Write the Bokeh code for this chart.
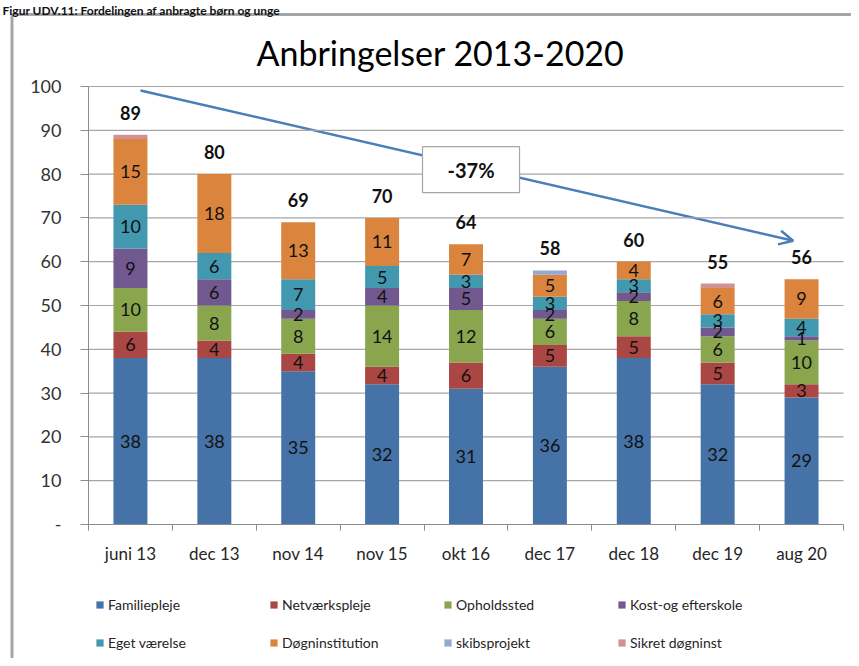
import numpy as np
from bokeh.plotting import figure
from bokeh.models import (ColumnDataSource, FixedTicker, Legend, LegendItem, Arrow,
                          OpenHead, Range1d)
from bokeh.core.properties import value
from bokeh.embed import file_html
from bokeh.resources import INLINE

categories = ["juni 13", "dec 13", "nov 14", "nov 15", "okt 16", "dec 17", "dec 18", "dec 19", "aug 20"]
familiepleje = [38, 38, 35, 32, 31, 36, 38, 32, 29]
netvaerkspleje = [6, 4, 4, 4, 6, 5, 5, 5, 3]
opholdssted = [10, 8, 8, 14, 12, 6, 8, 6, 10]
kost_efterskole = [9, 6, 2, 4, 5, 2, 2, 2, 1]
eget_vaerelse = [10, 6, 7, 5, 3, 3, 3, 3, 4]
doegninstitution = [15, 18, 13, 11, 7, 5, 4, 6, 9]
skibsprojekt = [0, 0, 0, 0, 0, 1, 0, 0, 0]
sikret_doegninst = [1, 0, 0, 0, 0, 0, 0, 1, 0]
series_names = ["Familiepleje", "Netværkspleje", "Opholdssted", "Kost-og efterskole",
                "Eget værelse", "Døgninstitution", "skibsprojekt", "Sikret døgninst"]
y_ticks = list(range(0, 101, 10))
change_text = "-37%"
title_text = "Anbringelser 2013-2020"
header_text = "Figur UDV.11: Fordelingen af anbragte børn og unge"

series = [familiepleje, netvaerkspleje, opholdssted, kost_efterskole,
          eget_vaerelse, doegninstitution, skibsprojekt, sikret_doegninst]
colors = ["#4572A7", "#AA4643", "#89A54E", "#71588F", "#4198AF", "#DB843D", "#93A9CF", "#D19392"]
labelled = 6  # first six series carry value labels

FONT = "Lato"
W, H = 851, 658
# plot area in canvas pixels
PL, PR, PT, PB = 88, 843, 86, 524
n = len(categories)
xpx = n / (PR - PL)          # data units per pixel (x)
ypx = 100.0 / (PB - PT)      # data units per pixel (y)
x_lo = -0.5 - PL * xpx
x_hi = n - 0.5 + (W - PR) * xpx
y_hi = 100 + PT * ypx
y_lo = -(H - PB) * ypx


def cx(px):
    return x_lo + px * xpx


def cy(py):
    return y_hi - py * ypx


x = list(range(n))
keys = [f"s{i}" for i in range(len(series))]
data = {"x": x}
for k, s in zip(keys, series):
    data[k] = s
src = ColumnDataSource(data)

# frame covers the whole canvas; axes are pinned inside it
p = figure(width=W, height=H, x_range=Range1d(x_lo, x_hi), y_range=Range1d(y_lo, y_hi),
           output_backend="svg", toolbar_location=None,
           min_border_left=0, min_border_right=0, min_border_top=0, min_border_bottom=0)
p.outline_line_color = None
p.background_fill_color = "white"
p.border_fill_color = "white"

# chart object border (left and top)
p.line(x=[cx(11.5), cx(11.5), cx(W + 10)], y=[cy(H + 10), cy(14), cy(14)],
       line_color="#A6A6A6", line_width=3)

# header and title
p.text(x=[cx(2)], y=[cy(10)], text=[header_text], text_align="left", text_baseline="alphabetic",
       text_font=value(FONT), text_font_size="12px", text_font_style="bold", text_color="#111111")
p.text(x=[cx(440)], y=[cy(52)], text=[title_text], text_align="center", text_baseline="middle",
       text_font=value(FONT), text_font_size="34px", text_color="#000000")

# horizontal gridlines limited to the plot area
p.xgrid.grid_line_color = None
p.ygrid.grid_line_color = None
p.segment(x0=[-0.5] * len(y_ticks), x1=[n - 0.5] * len(y_ticks), y0=y_ticks, y1=y_ticks,
          line_color="#A6A6A6", line_width=1.2)

renderers = p.vbar_stack(keys, x="x", width=0.405, source=src, color=colors, line_color=None)

# axes
p.yaxis.fixed_location = -0.5
p.yaxis.ticker = FixedTicker(ticks=y_ticks)
p.yaxis.bounds = (0, 100)
p.yaxis.major_label_overrides = {0: "-"}
p.yaxis.major_tick_out = 8
p.yaxis.major_tick_in = 0
p.yaxis.minor_tick_line_color = None
p.yaxis.axis_line_color = "#8C8C8C"
p.yaxis.major_tick_line_color = "#8C8C8C"
p.yaxis.major_label_standoff = 19
p.yaxis.major_label_text_font = FONT
p.yaxis.major_label_text_font_size = "18px"
p.yaxis.major_label_text_color = "#333333"

p.xaxis.fixed_location = 0
p.xaxis.bounds = (-0.5, n - 0.5)
p.xaxis.ticker = FixedTicker(ticks=x, minor_ticks=[i - 0.5 for i in range(n + 1)])
p.xaxis.major_label_overrides = {i: c for i, c in enumerate(categories)}
p.xaxis.major_tick_out = 0
p.xaxis.major_tick_in = 0
p.xaxis.minor_tick_out = 6
p.xaxis.minor_tick_in = 0
p.xaxis.minor_tick_line_color = "#8C8C8C"
p.xaxis.axis_line_color = "#8C8C8C"
p.xaxis.major_label_standoff = 12
p.xaxis.major_label_text_font = FONT
p.xaxis.major_label_text_font_size = "17px"
p.xaxis.major_label_text_color = "#262626"

# segment value labels
lx, ly, lt = [], [], []
bottom = np.zeros(n)
for i, s in enumerate(series):
    arr = np.array(s, dtype=float)
    if i < labelled:
        for j in range(n):
            if arr[j] > 0:
                lx.append(x[j])
                ly.append(bottom[j] + arr[j] / 2)
                lt.append(str(int(arr[j])))
    bottom = bottom + arr
p.text(x=lx, y=ly, text=lt, text_align="center", text_baseline="middle",
       text_font=value(FONT), text_font_size="18px", text_color="#111111")

totals = bottom
p.text(x=x, y=list(totals), text=[str(int(t)) for t in totals], text_align="center",
       text_baseline="middle", y_offset=-22, text_font=value(FONT), text_font_size="18px",
       text_font_style="bold", text_color="#111111")

# trend arrow and change box
arrow = Arrow(x_start=0.12, y_start=99.1, x_end=7.9, y_end=64.8,
              line_color="#4A7EBB", line_width=2.5,
              end=OpenHead(size=14, line_color="#4A7EBB", line_width=2.5))
arrow.level = "underlay"
p.add_layout(arrow)
p.rect(x=[4.06], y=[81.0], width=[97], height=[46], width_units="screen", height_units="screen",
       fill_color="white", line_color="#A6A6A6", line_width=1.2)
p.text(x=[4.06], y=[81.0], text=[change_text], text_align="center", text_baseline="middle",
       text_font=value(FONT), text_font_size="20px", text_font_style="bold", text_color="#111111")

# legend
items = [LegendItem(label=nm, renderers=[r]) for nm, r in zip(series_names, renderers)]
legend = Legend(items=items, orientation="horizontal", ncols=4, location=(PL + 7, 6),
                glyph_width=9, glyph_height=9, label_standoff=4, label_width=143,
                label_height=20, spacing=18, padding=0, margin=0,
                label_text_font=FONT, label_text_font_size="14px", label_text_color="#262626",
                border_line_color=None, background_fill_alpha=0)
p.add_layout(legend)

open("out.html", "w").write(file_html(p, INLINE))
